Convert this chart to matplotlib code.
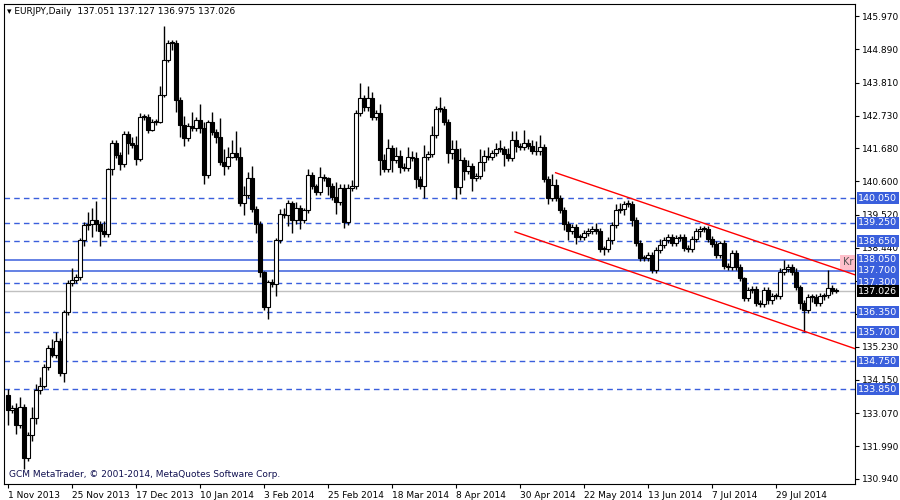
import matplotlib
matplotlib.use("Agg")
import matplotlib.pyplot as plt
import matplotlib.transforms as mtrans
from matplotlib.patches import Rectangle

# daily closes, EURJPY, 1 Nov 2013 .. mid Aug 2014
closes = [133.18, 133.25, 132.69, 133.28, 131.61, 132.37, 132.91, 133.83, 133.95, 134.58,
          135.18, 134.95, 135.40, 134.37, 136.37, 137.29, 137.40, 137.50, 138.70, 139.18,
          139.20, 139.35, 139.20, 139.00, 138.90, 140.99, 141.84, 141.46, 141.17, 142.14,
          141.84, 141.78, 141.32, 142.68, 142.70, 142.27, 142.54, 142.54, 143.40, 144.54,
          145.08, 145.08, 143.24, 142.43, 142.00, 142.40, 142.33, 142.60, 142.33, 140.81,
          142.54, 142.20, 142.05, 141.24, 141.10, 141.40, 141.53, 141.40, 139.91, 140.16,
          140.70, 139.69, 139.22, 137.65, 136.53, 137.34, 137.27, 138.70, 139.54, 139.50,
          139.91, 139.33, 139.72, 139.35, 139.67, 140.80, 140.45, 140.27, 140.75, 140.70,
          140.45, 140.08, 139.94, 140.40, 139.29, 140.40, 140.45, 142.81, 143.30, 143.00,
          143.30, 142.68, 142.81, 141.29, 140.99, 141.67, 141.29, 141.43, 141.08, 141.02,
          141.40, 141.35, 140.67, 140.45, 141.38, 141.49, 142.11, 142.94, 142.94, 142.54,
          141.51, 141.64, 140.43, 141.29, 140.95, 141.10, 140.70, 140.77, 141.24, 141.43,
          141.40, 141.53, 141.64, 141.64, 141.49, 141.35, 141.94, 141.75, 141.71, 141.86,
          141.75, 141.60, 141.57, 141.70, 140.67, 140.05, 140.48, 140.05, 139.67, 139.22,
          139.00, 139.13, 138.78, 138.80, 138.91, 139.00, 139.05, 139.00, 138.40, 138.40,
          138.68, 139.18, 139.67, 139.70, 139.86, 139.86, 139.35, 138.59, 138.10, 138.10,
          138.21, 137.72, 138.37, 138.54, 138.70, 138.78, 138.59, 138.75, 138.80, 138.43,
          138.40, 138.72, 139.00, 139.04, 139.04, 138.72, 138.57, 138.21, 138.61, 137.85,
          137.81, 138.26, 137.83, 137.45, 136.80, 137.07, 137.10, 136.64, 136.61, 137.07,
          136.73, 136.88, 136.87, 137.67, 137.74, 137.81, 137.67, 137.18, 136.64, 136.42,
          136.84, 136.84, 136.66, 136.86, 136.91, 137.13, 137.05, 137.026]
first_open = 133.67
last_open = 137.051

# wick lengths above / below the body (yen)
wick_up = [0.20, 0.10, 0.15, 0.30, 0.10, 0.10, 0.35, 0.20, 0.30, 0.10,
           0.10, 0.30, 0.30, 0.10, 0.05, 0.10, 0.40, 0.10, 0.05, 0.10,
           0.40, 0.40, 0.60, 0.10, 0.30, 0.05, 0.10, 0.10, 0.10, 0.10,
           0.10, 0.20, 0.30, 0.15, 0.10, 0.10, 0.10, 0.10, 0.30, 1.10,
           0.10, 0.10, 0.10, 0.10, 0.30, 0.10, 0.45, 0.10, 0.50, 0.20,
           0.05, 0.30, 0.10, 0.60, 0.40, 0.30, 0.40, 0.70, 0.30, 0.30,
           0.20, 0.40, 0.10, 0.10, 0.05, 0.05, 0.10, 0.05, 0.15, 0.20,
           0.10, 0.05, 0.20, 0.10, 0.05, 0.20, 0.10, 0.05, 0.30, 0.10,
           0.05, 0.10, 0.50, 0.10, 0.10, 0.10, 0.20, 0.10, 0.50, 0.10,
           0.40, 0.20, 0.10, 0.30, 0.20, 0.30, 0.10, 0.30, 0.20, 0.10,
           0.30, 0.20, 0.20, 0.10, 0.40, 0.10, 0.30, 0.10, 0.40, 0.10,
           0.10, 0.30, 0.30, 0.40, 0.10, 0.20, 0.10, 0.10, 0.40, 0.20,
           0.30, 0.10, 0.20, 0.30, 0.10, 0.20, 0.30, 0.30, 0.10, 0.40,
           0.10, 0.20, 0.30, 0.40, 0.10, 0.10, 0.35, 0.20, 0.10, 0.10,
           0.10, 0.10, 0.10, 0.10, 0.10, 0.10, 0.10, 0.20, 0.10, 0.10,
           0.10, 0.10, 0.20, 0.20, 0.10, 0.15, 0.10, 0.10, 0.10, 0.10,
           0.10, 0.10, 0.10, 0.20, 0.10, 0.10, 0.10, 0.10, 0.10, 0.10,
           0.10, 0.10, 0.10, 0.10, 0.10, 0.10, 0.10, 0.10, 0.05, 0.10,
           0.10, 0.10, 0.10, 0.10, 0.05, 0.10, 0.10, 0.10, 0.10, 0.10,
           0.10, 0.10, 0.10, 0.10, 0.30, 0.10, 0.10, 0.10, 0.05, 0.10,
           0.10, 0.10, 0.10, 0.10, 0.05, 0.60, 0.10, 0.08]
wick_dn = [0.50, 0.10, 0.30, 0.10, 0.35, 0.10, 0.20, 0.20, 0.15, 0.05,
           0.10, 0.05, 0.10, 0.10, 0.30, 0.10, 0.10, 0.10, 0.10, 0.20,
           0.15, 0.40, 0.20, 0.50, 0.10, 0.10, 0.20, 0.10, 0.20, 0.10,
           0.35, 0.10, 0.20, 0.05, 0.10, 0.10, 0.05, 0.10, 0.05, 0.05,
           0.05, 0.20, 0.40, 0.40, 0.25, 0.10, 0.10, 0.10, 0.15, 0.30,
           0.10, 0.10, 0.20, 0.10, 0.30, 0.10, 0.05, 0.10, 0.10, 0.40,
           0.10, 0.10, 0.30, 0.15, 0.10, 0.40, 0.10, 0.40, 0.10, 0.10,
           0.35, 0.40, 0.10, 0.30, 0.10, 0.10, 0.10, 0.10, 0.10, 0.10,
           0.30, 0.10, 0.40, 0.10, 0.20, 0.10, 0.10, 0.10, 0.10, 0.10,
           0.10, 0.10, 0.10, 0.50, 0.10, 0.10, 0.40, 0.10, 0.20, 0.10,
           0.10, 0.10, 0.30, 0.10, 0.40, 0.10, 0.10, 0.10, 0.10, 0.10,
           0.30, 0.20, 0.40, 0.25, 0.30, 0.10, 0.40, 0.10, 0.10, 0.30,
           0.10, 0.10, 0.10, 0.10, 0.40, 0.10, 0.10, 0.20, 0.10, 0.10,
           0.10, 0.10, 0.10, 0.10, 0.10, 0.20, 0.10, 0.10, 0.10, 0.20,
           0.30, 0.10, 0.20, 0.10, 0.10, 0.10, 0.10, 0.10, 0.10, 0.20,
           0.10, 0.10, 0.10, 0.10, 0.20, 0.10, 0.20, 0.10, 0.10, 0.10,
           0.10, 0.10, 0.10, 0.10, 0.10, 0.10, 0.10, 0.10, 0.10, 0.10,
           0.10, 0.10, 0.10, 0.20, 0.10, 0.10, 0.10, 0.10, 0.10, 0.10,
           0.10, 0.10, 0.10, 0.10, 0.10, 0.10, 0.10, 0.10, 0.10, 0.10,
           0.10, 0.10, 0.10, 0.10, 0.10, 0.10, 0.10, 0.10, 0.20, 0.70,
           0.10, 0.15, 0.10, 0.10, 0.10, 0.10, 0.10, 0.05]

date_labels = ["1 Nov 2013", "25 Nov 2013", "17 Dec 2013", "10 Jan 2014", "3 Feb 2014",
               "25 Feb 2014", "18 Mar 2014", "8 Apr 2014", "30 Apr 2014", "22 May 2014",
               "13 Jun 2014", "7 Jul 2014", "29 Jul 2014"]
date_bars = [0, 16, 32, 48, 64, 80, 96, 112, 128, 144, 160, 176, 192]
price_ticks = [145.970, 144.890, 143.810, 142.730, 141.680, 140.600, 139.520, 138.440,
               137.360, 136.280, 135.230, 134.150, 133.070, 131.990, 130.940]
hidden_ticks = [137.360, 136.280]  # covered by level labels in the terminal
dashed_levels = [140.050, 139.250, 138.650, 137.300, 136.350, 135.700, 134.750, 133.850]
solid_levels = [138.050, 137.700]
bid = 137.026
channel_top = [(136.9, 140.88), (213.2, 137.50)]
channel_bottom = [(126.75, 138.96), (213.2, 135.10)]

fig = plt.figure(figsize=(9, 5), dpi=100)
ax = fig.add_axes([4 / 900, 16 / 500, 851 / 900, 480 / 500])
ax.set_xlim(-1, 211.75)
ax.set_ylim(130.77, 146.36)

opens = [first_open] + closes[:-1]
opens[-1] = last_open
for i, (o, c) in enumerate(zip(opens, closes)):
    top, bot = max(o, c), min(o, c)
    ax.vlines(i, bot - wick_dn[i], top + wick_up[i], color="black", lw=1, zorder=3)
    h = max(top - bot, 0.03)
    ax.add_patch(Rectangle((i - 0.4, bot), 0.8, h, facecolor="white" if c > o else "black",
                           edgecolor="black", lw=0.8, zorder=4))

for lv in dashed_levels:
    ax.axhline(lv, color="#3a5fdc", lw=1, ls=(0, (4, 3)), zorder=1)
for lv in solid_levels:
    ax.axhline(lv, color="#3a5fdc", lw=1.1, zorder=1)
ax.axhline(bid, color="#c0c0c0", lw=1, zorder=1)
for seg in (channel_top, channel_bottom):
    ax.plot([seg[0][0], seg[1][0]], [seg[0][1], seg[1][1]], color="red", lw=1, zorder=5)

ax.add_patch(Rectangle((208, 137.72), 5, 0.5, facecolor="#ffc0cb", edgecolor="none", zorder=2))
ax.text(208.8, 137.97, "Kr", fontsize=7, va="center", color="#555555", zorder=2, clip_on=True)

ax.yaxis.tick_right()
ax.set_yticks(price_ticks)
ax.set_yticklabels(["" if p in hidden_ticks else f"{p:.3f}" for p in price_ticks], fontsize=6.5)
ax.tick_params(axis="y", length=3, pad=2)
ax.set_xticks(date_bars)
ax.set_xticklabels(date_labels, fontsize=6.5, ha="left")
ax.tick_params(axis="x", length=3, pad=2)
for s in ax.spines.values():
    s.set_color("black")

tr = mtrans.blended_transform_factory(ax.transAxes, ax.transData)
for lv in dashed_levels + solid_levels:
    ax.text(1.004, lv, f"{lv:.3f}", transform=tr, fontsize=6.8, color="white", va="center",
            ha="left", clip_on=False, zorder=10,
            bbox=dict(boxstyle="square,pad=0.15", fc="#3a5fdc", ec="none"))
ax.text(1.004, bid, f"{bid:.3f}", transform=tr, fontsize=6.8, color="white", va="center",
        ha="left", clip_on=False, zorder=11,
        bbox=dict(boxstyle="square,pad=0.15", fc="black", ec="none"))

ax.text(0.004, 0.993, "\u25be EURJPY,Daily  137.051 137.127 136.975 137.026", transform=ax.transAxes,
        fontsize=6.5, va="top", ha="left")
ax.text(0.006, 0.01, "GCM MetaTrader, \u00a9 2001-2014, MetaQuotes Software Corp.", transform=ax.transAxes,
        fontsize=6.5, va="bottom", ha="left", color="#101050")

fig.savefig("out.png", dpi=100)
